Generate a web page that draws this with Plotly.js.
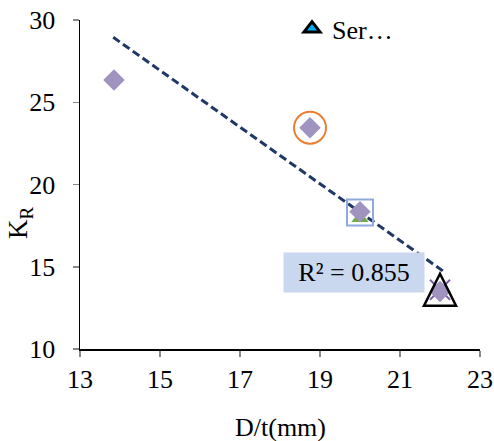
<!DOCTYPE html>
<html>
<head>
<meta charset="utf-8">
<script src="https://cdn.plot.ly/plotly-3.0.1.min.js"></script>
<style>html,body{margin:0;padding:0;background:#fff;}#chart{width:494px;height:441px;}</style>
</head>
<body>
<div id="chart"></div>
<script>
// Main series (diamonds)
const dtValues = [13.85, 18.75, 20.0, 22.0];
const krValues = [26.35, 23.45, 18.35, 13.5];
// Highlighted points
const circleX = [18.75], circleY = [23.45];
const squareX = [20.0], squareY = [18.3];
const greenTriX = [20.0], greenTriY = [17.95];
const openTriX = [22.0], openTriY = [13.6];
const crossX = [22.0], crossY = [13.6];
// Trendline endpoints
const trendX = [13.83, 22.1];
const trendY = [28.95, 14.7];
const legendName = 'Ser…';
const r2Label = 'R² = 0.855';
const xTitle = 'D/t(mm)';
const xTicks = [13, 15, 17, 19, 21, 23];
const yTicks = [10, 15, 20, 25, 30];

const serif = 'Liberation Serif';
const FS = 26;

const traces = [
  {x: greenTriX, y: greenTriY, mode: 'markers', type: 'scatter', showlegend: false,
   marker: {symbol: 'triangle-up', size: 15, color: '#70AD47'}},
  {x: crossX, y: crossY, mode: 'markers', type: 'scatter', showlegend: false,
   marker: {symbol: 'x-thin-open', size: 20, color: '#7F60A8', line: {color: '#7F60A8', width: 2}}},
  {x: trendX, y: trendY, mode: 'lines', type: 'scatter', showlegend: false,
   line: {color: '#203864', width: 3, dash: '8px,4px'}},
  {x: dtValues, y: krValues, mode: 'markers', type: 'scatter', showlegend: false,
   marker: {symbol: 'diamond', size: 16.5, color: '#A193C0'}},
  {x: circleX, y: circleY, mode: 'markers', type: 'scatter', showlegend: false,
   marker: {symbol: 'circle-open', size: 32, line: {color: '#ED7D31', width: 2}, color: '#ED7D31'}},
  {x: squareX, y: squareY, mode: 'markers', type: 'scatter', showlegend: false,
   marker: {symbol: 'square-open', size: 26, line: {color: '#8EA9DB', width: 2}, color: '#8EA9DB'}},
  {x: [null], y: [null], mode: 'markers', type: 'scatter', name: legendName, showlegend: true,
   marker: {symbol: 'triangle-up', size: 14, color: '#00B0F0', line: {color: '#000000', width: 3}}}
];

// Open black triangle drawn as a pixel-sized shape anchored at its data point
const triShapes = openTriX.map((xv, i) => ({
  type: 'path', xref: 'x', yref: 'y', xsizemode: 'pixel', ysizemode: 'pixel',
  xanchor: xv, yanchor: openTriY[i],
  path: 'M -16,-16 L 16,-16 L 0,16 Z',
  line: {color: '#000000', width: 2.5}, fillcolor: 'rgba(0,0,0,0)', layer: 'above'
}));

const layout = {
  width: 494, height: 441,
  margin: {l: 80, r: 14, t: 20, b: 92, autoexpand: false},
  paper_bgcolor: '#ffffff', plot_bgcolor: '#ffffff',
  font: {family: serif, size: FS, color: '#000000'},
  xaxis: {
    range: [13, 23], tickvals: xTicks, ticktext: xTicks.map(String), automargin: false,
    showgrid: false, zeroline: false, showline: true, linecolor: '#000000', linewidth: 1.5,
    ticks: 'outside', ticklen: 6, tickcolor: '#888888', tickwidth: 1.5,
    tickfont: {family: serif, size: FS, color: '#000000'}
  },
  yaxis: {
    range: [10, 30], tickvals: yTicks, ticktext: yTicks.map(String), automargin: false,
    showgrid: false, zeroline: false, showline: true, linecolor: '#000000', linewidth: 1.5,
    ticks: 'outside', ticklen: 6, tickcolor: '#888888', tickwidth: 1.5, ticklabelstandoff: 12,
    tickfont: {family: serif, size: FS, color: '#000000'}
  },
  showlegend: true,
  legend: {x: 0.53, y: 1.045, xanchor: 'left', yanchor: 'top', bgcolor: 'rgba(0,0,0,0)',
           font: {family: serif, size: FS, color: '#000000'}},
  shapes: triShapes,
  annotations: [
    {xref: 'paper', yref: 'paper', x: (20 - 80) / 400, y: (349 - 223) / 329, text: 'K<sub>R</sub>', showarrow: false,
     textangle: -90, font: {family: serif, size: 27, color: '#000000'}, xanchor: 'center', yanchor: 'middle'},
    {xref: 'paper', yref: 'paper', x: 0.5, y: (349 - 427) / 329, text: xTitle, showarrow: false,
     font: {family: serif, size: FS, color: '#000000'}, xanchor: 'center', yanchor: 'middle'},
    {xref: 'paper', yref: 'paper', x: (354 - 80) / 400, y: (349 - 272) / 329, text: r2Label, showarrow: false,
     font: {family: serif, size: FS, color: '#000000'}, bgcolor: '#C9D8EE',
     width: 140, height: 39, borderpad: 0, xanchor: 'center', yanchor: 'middle'}
  ]
};
Plotly.newPlot('chart', traces, layout, {displayModeBar: false, staticPlot: true});
</script>
</body>
</html>
